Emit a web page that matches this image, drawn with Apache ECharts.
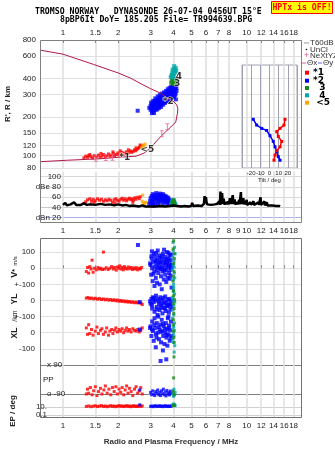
<!DOCTYPE html>
<html><head><meta charset="utf-8">
<script src="https://cdn.jsdelivr.net/npm/echarts@6/dist/echarts.min.js"></script>
<style>html,body{margin:0;padding:0;background:#fff}#c{width:335px;height:451px}</style>
</head><body><div id="c"></div>
<script>
// ---------- tick labels ----------
const freqTicksTop = [1,1.5,2,3,4,5,6,7,8,10,12,14,16,18];
const freqTicksMid = [1,1.5,2,3,4,5,6,7,8,9,10,12,14,16,18];
const heightTicks = [80,90,100,120,150,200,300,400,600,800];
const dbTicks = [20,40,60,80,100];
const dbTickLabels = ['dBn 20','40','60','dBe 80','100'];
const velTicks = [100,0,-100,-200,-300,-400,-500];
const velTickLabels = ['100','0','+-100','0','+-100','0','-100'];
const ppTicks = [90,-90];
const ppTickLabels = ['x 90','o -90'];
const epTicks = [10,0.1];
const epTickLabels = ['10.','0.1'];
const tiltTicks = [-20,-10,0,10,20];

// ---------- height profile (f MHz, km) ----------
const profileF = [0.76,1.0,1.47,2.0,2.34,2.7,3.0,3.41,3.70,4.02,4.17,4.22,4.20,4.11,3.86,3.63,3.34,3.0,2.76,2.60,2.50,2.0,1.61,1.06,0.76];
const profileH = [665,620,515,442,402,360,333,307,280,263,248,232,214,183,167,154,137,115,104.6,101,99,97,94.5,92,89.7];
const nextyzMarks = [[1.51,95.5],[1.71,96.5],[1.86,97],[3.45,148],[3.70,168]];

// ---------- echo heights ----------
const redH = [[1.30,96],[1.33,99],[1.36,97],[1.38,100],[1.42,98],[1.45,96],[1.48,100],[1.52,98],[1.56,101],[1.59,97],[1.63,99],[1.66,102],[1.70,98],[1.73,100],[1.77,103],[1.80,99],[1.84,101],[1.88,104],[1.91,100],[1.95,102],[1.99,105],[2.02,101],[2.06,103],[2.10,106],[2.13,102],[2.17,104],[2.21,107],[2.25,104],[2.29,106],[2.33,109],[2.37,106],[2.41,108],[2.45,111],[2.49,109],[2.53,112],[2.57,114],[2.61,116],[2.65,118],[2.69,120],[1.40,102],[1.61,104],[1.87,107],[2.05,109],[2.27,111],[2.50,115],[2.63,121]];
const orangeH = [[2.68,116],[2.72,121],[2.76,118],[2.80,123],[2.74,114]];
const blueH = [[3.00,228],[3.00,244],[3.03,236],[3.04,252],[3.06,222],[3.08,246],[3.09,232],[3.11,258],[3.12,240],[3.14,226],[3.16,250],[3.17,264],[3.19,238],[3.21,256],[3.22,270],[3.24,244],[3.26,260],[3.27,232],[3.29,276],[3.31,252],[3.32,266],[3.34,242],[3.36,282],[3.38,258],[3.39,272],[3.41,250],[3.43,288],[3.45,264],[3.47,278],[3.48,256],[3.50,294],[3.52,270],[3.54,284],[3.56,262],[3.58,300],[3.60,276],[3.61,290],[3.63,268],[3.65,306],[3.67,282],[3.69,296],[3.71,274],[3.73,312],[3.75,288],[3.77,302],[3.79,280],[3.81,318],[3.83,294],[3.85,308],[3.87,326],[3.89,300],[3.91,316],[3.93,334],[3.95,306],[3.97,322],[4.00,340],[4.03,314],[4.06,330],[4.10,346],[4.14,336],[4.02,285],[4.08,298],[4.12,275],[3.96,290],[2.55,224],[2.95,236],
  [3.02,260],[3.05,215],[3.10,268],[3.13,215],[3.18,280],[3.23,228],[3.28,290],[3.33,236],[3.37,298],[3.42,240],[3.46,305],[3.51,250],[3.55,312],[3.59,258],[3.64,320],[3.68,265],[3.72,330],[3.76,272],[3.80,338],[3.84,280],[3.88,345],[3.92,290],[3.97,352],[4.05,356],[4.15,320],[4.10,305]];
const greenH = [[3.88,372],[3.92,384],[3.95,366],[3.98,392],[4.01,378],[4.04,396],[4.07,370],[4.10,386],[3.94,400],[4.02,362],[4.12,395]];
const cyanH = [[3.86,410],[3.90,425],[3.93,440],[3.96,418],[3.99,455],[4.02,432],[4.05,470],[4.08,445],[4.11,485],[3.95,470],[4.03,500],[4.00,408],[4.14,460]];
const traceLabels = [['*1',2.17,97],['*2',3.74,262],['3',4.18,364],['4',4.27,413],['<5',2.88,111]];

// ---------- tilt inset (deg, km) ----------
const tiltY = [[-17.7,192],[-14,173],[-8.5,163],[-3.1,157],[0.5,143],[4.1,129],[6,117],[7.9,107],[9.6,98],[11.5,92]];
const tiltX = [[16.9,192],[15.8,173],[11.5,163],[7.9,154],[9.6,141],[13.3,129],[11.5,117],[7.9,109],[6,101],[4.9,92]];

// ---------- amplitude dB ----------
const noiseDb = [[1.0,45],[1.03,49],[1.05,44],[1.1,46],[1.15,50],[1.18,45],[1.2,47],[1.25,45],[1.3,48],[1.35,45],[1.4,46],[1.5,45],[1.6,47],[1.7,45],[1.8,46],[1.9,44],[2.0,46],[2.1,44],[2.2,45],[2.3,43],[2.4,44],[2.5,43],[2.6,42],[2.7,44],[2.8,42],[2.9,42],[3.0,42],[3.2,42],[3.4,43],[3.6,42],[3.8,43],[4.0,44],[4.2,43],[4.4,42],[4.6,43],[4.8,42],[5.0,43],[5.05,49],[5.1,43],[5.4,44],[5.7,43],[5.85,47],[5.9,62],[5.95,48],[6.0,60],[6.05,50],[6.1,46],[6.4,45],[6.7,46],[6.9,47],[7.1,52],[7.15,45],[7.2,71],[7.25,46],[7.35,68],[7.4,47],[7.5,57],[7.55,46],[7.75,50],[7.8,46],[7.9,52],[8.0,46],[8.1,58],[8.2,47],[8.3,50],[8.35,47],[8.4,64],[8.45,47],[8.6,56],[8.65,46],[8.9,50],[8.95,46],[9.1,55],[9.15,46],[9.3,70],[9.35,47],[9.6,58],[9.65,46],[9.8,52],[9.85,46],[10.0,55],[10.05,45],[10.5,50],[10.55,45],[10.9,52],[10.95,45],[11.6,50],[11.65,45],[11.9,60],[11.95,45],[12.5,52],[12.55,44],[12.9,50],[12.95,44],[13.2,45],[13.8,44],[14.4,43],[15.0,43],[15.2,42]];
const redDb = [[1.30,48],[1.33,51],[1.36,55],[1.40,57],[1.43,52],[1.46,56],[1.50,53],[1.54,57],[1.58,54],[1.62,56],[1.66,52],[1.70,55],[1.74,53],[1.78,56],[1.82,54],[1.86,50],[1.90,55],[1.94,57],[1.98,54],[2.02,52],[2.06,56],[2.10,58],[2.14,54],[2.18,57],[2.22,53],[2.26,56],[2.30,58],[2.34,55],[2.38,57],[2.42,54],[2.46,59],[2.50,56],[2.55,60],[2.60,57],[2.64,61],[1.48,50],[1.92,49],[2.40,50]];
const orangeDb = [[2.70,52],[2.74,48],[2.72,64],[2.80,50],[2.78,46],[2.86,50]];
const blueDb = [[2.95,46],[2.98,52],[3.00,58],[3.02,48],[3.04,62],[3.06,54],[3.08,66],[3.10,50],[3.12,60],[3.14,56],[3.16,64],[3.18,47],[3.20,58],[3.22,68],[3.24,53],[3.26,61],[3.28,57],[3.30,65],[3.32,50],[3.34,62],[3.36,55],[3.38,67],[3.40,59],[3.42,52],[3.44,64],[3.46,57],[3.48,61],[3.50,66],[3.52,54],[3.54,60],[3.56,63],[3.58,51],[3.60,58],[3.62,62],[3.64,55],[3.66,60],[3.68,48],[3.70,57],[3.72,53],[3.74,59],[3.76,50],[3.78,55],[3.80,46],[3.82,52],[3.85,48],[3.88,45],[3.10,44],[3.30,45],[3.50,46]];
const greenDb = [[3.95,48],[3.99,51],[4.03,50],[4.00,54]];
const cyanDb = [[3.88,46],[3.92,50],[3.95,53],[3.98,55],[4.01,52],[4.04,49],[4.07,47],[4.10,45],[3.96,47],[4.02,46]];

// ---------- velocities V* (m/s), YL, XL (km) ----------
const redV = [[1.34,-20],[1.36,5],[1.38,-30],[1.40,10],[1.42,-5],[1.44,50],[1.46,-25],[1.48,0],[1.52,-10],[1.55,5],[1.58,-5],[1.61,0],[1.64,-8],[1.66,100],[1.68,-5],[1.72,3],[1.76,-8],[1.80,0],[1.84,10],[1.88,-5],[1.91,5],[1.95,-12],[1.98,8],[2.01,0],[2.04,15],[2.07,-5],[2.10,5],[2.13,-10],[2.16,10],[2.19,0],[2.23,-5],[2.27,8],[2.31,-3],[2.35,5],[2.39,-8],[2.43,2],[2.47,-5],[2.51,3],[2.55,-10],[2.60,0],[2.64,-5],[2.68,5]];
const redYL = [[1.34,15],[1.37,18],[1.40,12],[1.43,15],[1.47,10],[1.50,14],[1.54,8],[1.58,12],[1.62,6],[1.66,10],[1.70,4],[1.74,8],[1.78,2],[1.82,6],[1.86,0],[1.90,5],[1.94,-2],[1.98,3],[2.02,-5],[2.06,0],[2.10,-6],[2.14,-2],[2.18,-8],[2.22,-4],[2.26,-10],[2.30,-6],[2.35,-12],[2.40,-8],[2.45,-14],[2.50,-10],[2.55,-15],[2.60,-12],[2.66,-18],[2.70,-25]];
const redXL = [[1.34,30],[1.36,-10],[1.38,50],[1.40,-5],[1.43,20],[1.46,-15],[1.50,10],[1.53,35],[1.56,-5],[1.60,15],[1.63,25],[1.66,-10],[1.70,5],[1.73,30],[1.77,-15],[1.80,10],[1.84,20],[1.87,-5],[1.91,15],[1.94,30],[1.98,5],[2.02,20],[2.06,10],[2.10,25],[2.14,0],[2.18,15],[2.22,30],[2.26,10],[2.30,20],[2.35,5],[2.40,25],[2.45,15],[2.50,10],[2.55,20],[2.60,5],[2.65,15],[2.70,30]];
const blueV = [[3.00,20],[3.02,-40],[3.04,60],[3.06,0],[3.08,-80],[3.10,40],[3.12,90],[3.14,-20],[3.16,10],[3.18,70],[3.20,-60],[3.22,30],[3.24,-10],[3.26,50],[3.28,110],[3.30,-30],[3.32,20],[3.34,80],[3.36,-100],[3.38,0],[3.40,40],[3.42,-50],[3.44,60],[3.46,10],[3.48,-20],[3.50,90],[3.52,30],[3.54,-70],[3.56,50],[3.58,0],[3.60,-40],[3.62,70],[3.64,20],[3.66,-10],[3.68,100],[3.70,40],[3.72,-60],[3.74,10],[3.76,60],[3.78,-30],[3.80,30],[3.82,80],[3.84,-10],[3.86,50],[3.88,0],[3.90,-120],[3.92,20],[3.05,105],[3.15,-110],[3.45,-130],[3.25,-90],[3.55,115],[3.35,65],[3.65,-85],[3.75,95],[3.85,-45],[2.56,144],[2.98,30],
  [3.03,75],[3.11,-35],[3.19,45],[3.27,5],[3.37,35],[3.47,75],[3.57,-15],[3.67,55],[3.77,15],[3.87,85],[3.21,95],[3.41,-5],[3.61,35],[3.81,-65]];
const blueYL = [[3.00,-20],[3.03,10],[3.06,-50],[3.09,20],[3.12,-10],[3.15,-70],[3.18,0],[3.21,30],[3.24,-40],[3.27,-90],[3.30,10],[3.33,-20],[3.36,-60],[3.39,20],[3.42,-30],[3.45,0],[3.48,-80],[3.51,15],[3.54,-45],[3.57,-10],[3.60,25],[3.63,-65],[3.66,-15],[3.69,5],[3.72,-35],[3.75,-100],[3.78,10],[3.81,-25],[3.84,-55],[3.87,0],[3.90,-40],[2.98,-5],[2.62,-10],
  [3.05,-30],[3.14,15],[3.23,-55],[3.32,-5],[3.41,-45],[3.50,-20],[3.59,-50],[3.68,-30],[3.77,-75],[3.86,-20]];
const blueXL = [[3.00,40],[3.03,-20],[3.06,70],[3.09,10],[3.12,-50],[3.15,90],[3.18,30],[3.21,-10],[3.24,60],[3.27,0],[3.30,100],[3.33,-40],[3.36,20],[3.39,50],[3.42,-60],[3.45,80],[3.48,10],[3.51,-20],[3.54,40],[3.57,-70],[3.60,0],[3.63,60],[3.66,-30],[3.69,20],[3.72,90],[3.75,-10],[3.78,45],[3.81,-50],[3.84,15],[3.87,70],[3.90,-20],[2.98,30],[3.20,-90],[3.50,-110],[3.70,-80],[3.40,-175],[3.65,-165],[2.62,20],
  [3.05,20],[3.14,50],[3.23,-30],[3.32,35],[3.41,5],[3.50,55],[3.59,25],[3.68,-15],[3.77,30],[3.86,-35]];
const greenV = [[4.00,170],[3.98,120],[4.04,60],[4.02,-20],[3.97,-80],[4.01,30],[3.99,-50],[4.03,90]];
const greenYL = [[4.00,30],[3.98,-20],[4.03,-50],[4.05,5],[4.01,-80],[3.99,60]];
const greenXL = [[4.00,10],[3.98,50],[4.03,-60],[4.02,-150],[4.01,-30],[3.99,80]];
const cyanV = [[3.96,70],[4.00,20],[4.04,-30],[3.98,110],[4.06,-60],[4.02,45],[3.94,-10],[4.08,90],[4.00,-100],[3.97,160],[4.01,-140],[4.05,130],[3.99,-70],[4.03,5]];
const cyanYL = [[3.98,10],[4.02,-30],[4.05,40],[3.96,-60],[4.00,80],[4.06,-10],[3.94,20],[4.01,-90],[3.99,55],[4.03,-5]];
const cyanXL = [[3.98,30],[4.02,-20],[4.05,60],[3.96,-40],[4.00,0],[4.06,-80],[3.94,90],[4.03,-120],[4.01,40],[3.99,-60],[4.04,15]];

// ---------- polarisation PP (deg) and EP (deg) ----------
const redPP = [[1.34,-90],[1.36,-60],[1.38,-85],[1.41,-50],[1.44,-95],[1.47,-70],[1.50,-45],[1.53,-100],[1.56,-75],[1.60,-55],[1.63,-90],[1.67,-65],[1.70,-40],[1.74,-85],[1.78,-60],[1.82,-95],[1.86,-50],[1.90,-75],[1.94,-45],[1.98,-90],[2.02,-60],[2.06,-80],[2.10,-50],[2.14,-95],[2.18,-65],[2.22,-40],[2.26,-85],[2.30,-55],[2.35,-75],[2.40,-100],[2.45,-60],[2.50,-45],[2.55,-85],[2.60,-70],[2.65,-50],[2.70,-90]];
const bluePP = [[3.00,-80],[3.04,-95],[3.08,-70],[3.12,-90],[3.16,-100],[3.20,-75],[3.24,-85],[3.28,-65],[3.32,-95],[3.36,-80],[3.40,-100],[3.44,-70],[3.48,-88],[3.52,-60],[3.56,-95],[3.60,-78],[3.64,-102],[3.68,-68],[3.72,-90],[3.76,-82],[3.80,-96],[3.84,-72],[3.88,-85],[2.62,-65]];
const greenPP = [[3.98,-75],[4.02,-95],[4.00,10]];
const cyanPP = [[3.95,-70],[3.98,-90],[4.02,-60],[4.05,-95],[4.08,-80],[4.00,-105]];
const redEP = [[1.34,14],[1.38,18],[1.42,12],[1.46,16],[1.50,20],[1.54,13],[1.58,17],[1.62,22],[1.66,14],[1.70,18],[1.74,12],[1.78,16],[1.82,21],[1.86,14],[1.90,18],[1.94,12],[1.98,16],[2.02,22],[2.06,15],[2.10,19],[2.14,13],[2.18,17],[2.22,21],[2.26,14],[2.30,18],[2.34,12],[2.38,16],[2.42,20],[2.46,14],[2.50,18],[2.54,13],[2.58,17],[2.62,21],[2.66,15],[2.70,19]];
const blueEP = [[3.00,14],[3.05,18],[3.10,12],[3.15,17],[3.20,21],[3.25,13],[3.30,16],[3.35,20],[3.40,14],[3.45,18],[3.50,12],[3.55,16],[3.60,21],[3.65,14],[3.70,18],[3.75,13],[3.80,17],[3.85,15],[3.90,19],[2.62,35]];
const greenEP = [[3.99,20],[4.04,28]];
const cyanEP = [[3.95,30],[3.98,45],[4.02,25],[4.05,38],[4.08,22],[4.00,55]];

// ---------- build ----------
const C = {red:'#ff0000', blue:'#0000ff', green:'#1a8a1a', cyan:'#00a8a8', orange:'#ffa500', curve:'#b01848', pink:'#e8609a'};
const FONT = 'Liberation Sans';
const velOffsets = {v:0, yl:-200, xl:-400}; // stacked sub-panels of the velocity plot
function stackVel(v, yl, xl){
  return v.map(p=>[p[0],p[1]+velOffsets.v])
    .concat(yl.map(p=>[p[0],p[1]+velOffsets.yl]))
    .concat(xl.map(p=>[p[0],p[1]+velOffsets.xl]));
}
const L = 40, R = 33;
const grids = [
  {left:L, right:R, top:40, height:128},
  {left:L, right:R, top:171.6, height:51.2},
  {left:L, right:R, top:238, height:127},
  {left:L, right:R, top:365, height:32.2},
  {left:L, right:R, top:398, height:20},
  {left:242, top:65, width:55, height:103, show:true, borderColor:'#a0a0b4', borderWidth:1, backgroundColor:'rgba(255,255,255,0)'}
].map(g=>Object.assign({outerBoundsMode:'none', containLabel:false}, g));

const lbl = (extra)=>Object.assign({fontFamily:FONT, fontSize:8, color:'#222', showMinLabel:true, showMaxLabel:true, hideOverlap:false}, extra);
function fAxis(g, extra){
  return Object.assign({
    type:'log', logBase:10, gridIndex:g, min:0.75, max:20,
    axisLine:{show:false},
    axisTick:{show:false, customValues:freqTicksTop},
    axisLabel:{show:false, customValues:freqTicksTop},
    splitLine:{show:true, lineStyle:{color:'#dedede', width:1.5}},
    minorTick:{show:false}, minorSplitLine:{show:false}
  }, extra);
}
const xAxis = [
  fAxis(0, {position:'top', axisTick:{show:true, inside:true, length:3, customValues:freqTicksTop, lineStyle:{color:'#888'}},
            axisLabel:lbl({show:true, customValues:freqTicksTop, margin:3})}),
  fAxis(1, {position:'bottom', axisTick:{show:false, customValues:freqTicksTop},
            axisLabel:lbl({show:true, customValues:freqTicksMid, margin:4})}),
  fAxis(2, {position:'top', axisTick:{show:true, inside:false, length:3, customValues:freqTicksTop, lineStyle:{color:'#888'}}}),
  fAxis(3, {}),
  fAxis(4, {position:'bottom', axisLabel:lbl({show:true, customValues:freqTicksTop, margin:4}),
            name:'Radio and Plasma Frequency / MHz', nameLocation:'middle', nameGap:20,
            nameTextStyle:{fontFamily:FONT, fontSize:8, fontWeight:'bold', color:'#333'}}),
  {type:'value', gridIndex:5, min:-30, max:30, interval:10,
   axisLine:{show:false}, axisTick:{show:false},
   axisLabel:{fontFamily:FONT, fontSize:6, color:'#222', margin:2, customValues:tiltTicks},
   splitLine:{show:true, lineStyle:{color:'#a0a0b4', width:1}},
   name:'Tilt / deg', nameLocation:'middle', nameGap:9, nameTextStyle:{fontFamily:FONT, fontSize:6, color:'#222'}}
];
const yAxis = [
  {type:'log', logBase:10, gridIndex:0, min:80, max:800,
   axisLine:{show:false}, axisTick:{show:false, customValues:heightTicks},
   axisLabel:lbl({customValues:heightTicks, margin:4}),
   splitLine:{show:true, lineStyle:{color:'#e0e0e0', width:1}},
   minorTick:{show:false}, minorSplitLine:{show:false},
   name:"R', R / km", nameLocation:'middle', nameGap:22, nameRotate:90,
   nameTextStyle:{fontFamily:FONT, fontSize:8, fontWeight:'bold', color:'#222'}},
  {type:'value', gridIndex:1, min:10, max:110,
   axisLine:{show:false}, axisTick:{show:false, customValues:dbTicks},
   axisLabel:lbl({customValues:dbTicks, margin:-21, formatter:v=>dbTickLabels[dbTicks.indexOf(v)]}),
   splitLine:{show:true, lineStyle:{color:['#aab0e8','#c8c8c8','#d8d8d8','#d8d8d8','#d8d8d8'], width:1}}},
  {type:'value', gridIndex:2, min:-600, max:187.5,
   axisLine:{show:false}, axisTick:{show:false, customValues:velTicks},
   axisLabel:lbl({customValues:velTicks, margin:5, formatter:v=>velTickLabels[velTicks.indexOf(v)]}),
   splitLine:{show:true, lineStyle:{color:'#e0e0e0', width:1}}},
  {type:'value', gridIndex:3, min:-110, max:90,
   axisLine:{show:false}, axisTick:{show:false, customValues:ppTicks},
   axisLabel:lbl({customValues:ppTicks, inside:true, margin:7, formatter:v=>ppTickLabels[ppTicks.indexOf(v)]}),
   splitLine:{show:true, lineStyle:{color:'#808080', width:1}}},
  {type:'log', logBase:10, gridIndex:4, min:0.0178, max:1778,
   axisLine:{show:false}, axisTick:{show:false, customValues:epTicks},
   axisLabel:lbl({customValues:epTicks, margin:-7, formatter:v=>epTickLabels[epTicks.indexOf(v)]}),
   splitLine:{show:true, lineStyle:{color:'#d0d0d0', width:1}},
   minorTick:{show:false}, minorSplitLine:{show:false}},
  {type:'log', logBase:10, gridIndex:5, min:80, max:509, show:false}
];

function sc(name, data, color, xi, size){
  return {type:'scatter', name, xAxisIndex:xi, yAxisIndex:xi, data, symbol:'rect', symbolSize:size||3,
          itemStyle:{color}, silent:true, animation:false};
}
const series = [
  {type:'line', name:'profile', xAxisIndex:0, yAxisIndex:0, data:profileF.map((f,i)=>[f,profileH[i]]),
   showSymbol:false, lineStyle:{color:C.curve, width:1}, silent:true, animation:false, z:3},
  {type:'scatter', name:'NeXtYZ', xAxisIndex:0, yAxisIndex:0, data:nextyzMarks,
   symbol:'path://M0,0H4V1H2.5V6H4V7H0V6H1.5V1H0Z', symbolSize:[4,7], itemStyle:{color:C.pink}, animation:false, z:4},
  sc('r', redH, C.red, 0), sc('o', orangeH, C.orange, 0), sc('b', blueH, C.blue, 0, 4),
  sc('g', greenH, C.green, 0, 4), sc('c', cyanH, C.cyan, 0, 4),
  {type:'scatter', name:'labels', xAxisIndex:0, yAxisIndex:0, symbolSize:0, animation:false, z:6,
   data:traceLabels.map(t=>({value:[t[1],t[2]], name:t[0]})),
   label:{show:true, position:'inside', formatter:p=>p.name, fontFamily:'DejaVu Sans', fontSize:9, fontWeight:'bold', color:'#000',
          textBorderColor:'#fff', textBorderWidth:1}},
  {type:'line', name:'Θy', xAxisIndex:5, yAxisIndex:5, data:tiltY, symbol:'rect', symbolSize:3, showSymbol:true,
   itemStyle:{color:C.blue}, lineStyle:{color:C.blue, width:1.5}, animation:false},
  {type:'line', name:'Θx', xAxisIndex:5, yAxisIndex:5, data:tiltX, symbol:'rect', symbolSize:3, showSymbol:true,
   itemStyle:{color:C.red}, lineStyle:{color:C.red, width:1.5}, animation:false},
  {type:'line', name:'noise', xAxisIndex:1, yAxisIndex:1, data:noiseDb, showSymbol:false,
   lineStyle:{color:'#000', width:2.5}, animation:false},
  sc('r', redDb, C.red, 1), sc('o', orangeDb, C.orange, 1), sc('b', blueDb, C.blue, 1, 4),
  sc('c', cyanDb, C.cyan, 1, 4), sc('g', greenDb, C.green, 1, 4),
  sc('r', stackVel(redV, redYL, redXL), C.red, 2), sc('b', stackVel(blueV, blueYL, blueXL), C.blue, 2, 4),
  sc('c', stackVel(cyanV, cyanYL, cyanXL), C.cyan, 2), sc('g', stackVel(greenV, greenYL, greenXL), C.green, 2),
  sc('r', redPP, C.red, 3), sc('b', bluePP, C.blue, 3), sc('c', cyanPP, C.cyan, 3), sc('g', greenPP, C.green, 3),
  sc('r', redEP, C.red, 4), sc('b', blueEP, C.blue, 4), sc('c', cyanEP, C.cyan, 4), sc('g', greenEP, C.green, 4)
];

const tFont = (s, w)=>(w||'') + ' ' + s + 'px "' + FONT + '"';
const mono = 'bold 8.2px "DejaVu Sans Mono"';
const legendRows = [
  {c:C.red, s:'*1', y:72.7},
  {c:C.blue, s:'*2', y:80.7},
  {c:C.green, s:'  3', y:88},
  {c:C.cyan, s:'  4', y:95.3},
  {c:C.orange, s:' <5', y:102.7}
];
const graphic = [
  {type:'text', x:35, y:8, style:{text:'TROMSO NORWAY   DYNASONDE 26-07-04 0456UT 15°E', font:mono, fill:'#000'}},
  {type:'text', x:60, y:16, style:{text:'8pBP6It DoY= 185.205 File= TR994639.BPG', font:mono, fill:'#000'}},
  {type:'rect', shape:{x:271.5, y:1.5, width:61, height:12}, style:{fill:'#ffff00', stroke:'#ff0000', lineWidth:1}},
  {type:'text', x:302, y:8, style:{text:'HPTx is OFF!', font:mono, fill:'#ff0000', align:'center', verticalAlign:'middle'}},
  {type:'rect', shape:{x:40.5, y:40.5, width:261, height:182}, style:{fill:null, stroke:'#808080', lineWidth:1}, z:50},
  {type:'rect', shape:{x:40.5, y:238.5, width:261, height:179}, style:{fill:null, stroke:'#707070', lineWidth:1}, z:50},
  {type:'text', x:15, y:267, rotation:Math.PI/2, style:{text:'{a|V}{b|*} {c|m/s}', align:'center', verticalAlign:'middle',
     rich:{a:{font:tFont(9,'bold'), fill:'#222'}, b:{font:tFont(7,'bold'), fill:'#222'}, c:{font:tFont(6), fill:'#222'}}}},
  {type:'text', x:15, y:299, rotation:Math.PI/2, style:{text:'YL', font:tFont(8.5,'bold'), fill:'#222', align:'center', verticalAlign:'middle'}},
  {type:'text', x:15, y:316, rotation:Math.PI/2, style:{text:'/km', font:tFont(7), fill:'#222', align:'center', verticalAlign:'middle'}},
  {type:'text', x:15, y:333, rotation:Math.PI/2, style:{text:'XL', font:tFont(8.5,'bold'), fill:'#222', align:'center', verticalAlign:'middle'}},
  {type:'text', x:13, y:411, rotation:Math.PI/2, style:{text:'EP / deg', font:tFont(8,'bold'), fill:'#222', align:'center', verticalAlign:'middle'}},
  {type:'text', x:43, y:380, style:{text:'PP', font:tFont(8), fill:'#222', verticalAlign:'middle'}},
  {type:'line', shape:{x1:304, y1:43, x2:309, y2:43}, style:{stroke:'#999', lineWidth:1}},
  {type:'text', x:310, y:43, style:{text:'T60dB', font:tFont(8), fill:'#333', verticalAlign:'middle'}},
  {type:'circle', shape:{cx:306.5, cy:49.5, r:0.8}, style:{fill:'#000'}},
  {type:'text', x:310, y:49.5, style:{text:'UnCl', font:tFont(8), fill:'#333', verticalAlign:'middle'}},
  {type:'text', x:306.5, y:56, style:{text:'+', font:tFont(9), fill:C.pink, align:'center', verticalAlign:'middle'}},
  {type:'text', x:310, y:56, style:{text:'NeXtYZ', font:tFont(8), fill:'#333', verticalAlign:'middle'}},
  {type:'line', shape:{x1:302, y1:63, x2:306, y2:63}, style:{stroke:C.pink, lineWidth:1}},
  {type:'text', x:307, y:63, style:{text:'Θx', font:tFont(8), fill:'#333', verticalAlign:'middle'}},
  {type:'line', shape:{x1:318, y1:63, x2:322, y2:63}, style:{stroke:'#6060ff', lineWidth:1}},
  {type:'text', x:323, y:63, style:{text:'Θy', font:tFont(8), fill:'#333', verticalAlign:'middle'}}
];
legendRows.forEach(r=>{
  graphic.push({type:'rect', shape:{x:305, y:r.y-2, width:4, height:4}, style:{fill:r.c}});
  graphic.push({type:'text', x:313, y:r.y, style:{text:r.s, font:'bold 9px "DejaVu Sans"', fill:'#000', verticalAlign:'middle'}});
});

const chart = echarts.init(document.getElementById('c'), null, {renderer:'canvas'});
chart.setOption({animation:false, backgroundColor:'#fff', grid:grids, xAxis, yAxis, series, graphic});
</script></body></html>
